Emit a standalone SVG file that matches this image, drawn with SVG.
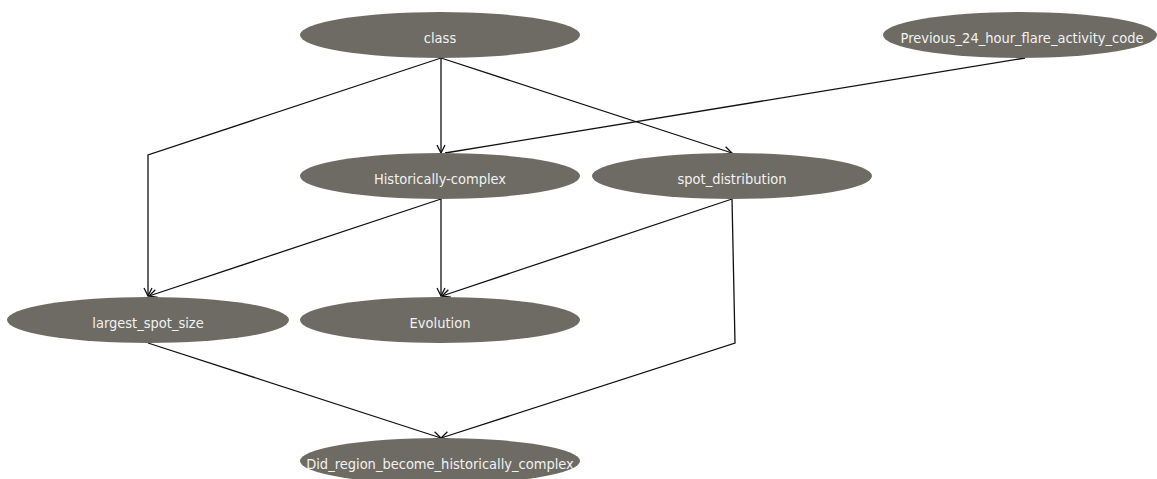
<svg xmlns="http://www.w3.org/2000/svg" width="1157" height="479" viewBox="0 0 1157 479">
<style>
.n ellipse{fill:#6d6b63;}
.n text{fill:#f2f2f2;font-family:"DejaVu Sans Condensed","DejaVu Sans",sans-serif;font-size:14.5px;text-anchor:middle;}
.e path{fill:none;stroke:#111;stroke-width:1.3;}
</style>
<defs>
<marker id="a" markerWidth="10" markerHeight="10" refX="9" refY="5" orient="auto" markerUnits="userSpaceOnUse">
<path d="M1,1 L9,5 L1,9" fill="none" stroke="#111" stroke-width="1.3"/>
</marker>
</defs>
<rect width="1157" height="479" fill="#fff"/>
<g class="e">
<path d="M441,58 L441,153" marker-end="url(#a)"/>
<path d="M441,58 L148,155 L148,296" marker-end="url(#a)"/>
<path d="M441,58 L732,153" marker-end="url(#a)"/>
<path d="M1025,58 L445,153"/>
<path d="M441,199 L149,296" marker-end="url(#a)"/>
<path d="M441,199 L441,296" marker-end="url(#a)"/>
<path d="M732,199 L442,296" marker-end="url(#a)"/>
<path d="M732,199 L735,343 L441,438" marker-end="url(#a)"/>
<path d="M148,343 L441,438" marker-end="url(#a)"/>
</g>
<g id="class" class="n"><ellipse cx="440" cy="35" rx="140" ry="23"/><text x="440" y="43">class</text></g>
<g id="previous" class="n"><ellipse cx="1020" cy="35" rx="137" ry="23"/><text x="1022" y="43">Previous_24_hour_flare_activity_code</text></g>
<g id="historically" class="n"><ellipse cx="440" cy="176" rx="140" ry="23"/><text x="440" y="184">Historically-complex</text></g>
<g id="spot" class="n"><ellipse cx="732" cy="176" rx="140" ry="23"/><text x="732" y="184">spot_distribution</text></g>
<g id="largest" class="n"><ellipse cx="148" cy="320" rx="141" ry="23"/><text x="148" y="328">largest_spot_size</text></g>
<g id="evolution" class="n"><ellipse cx="440" cy="320" rx="140" ry="23"/><text x="440" y="328">Evolution</text></g>
<g id="did" class="n"><ellipse cx="440" cy="461" rx="140" ry="23"/><text x="440" y="469">Did_region_become_historically_complex</text></g>
</svg>
